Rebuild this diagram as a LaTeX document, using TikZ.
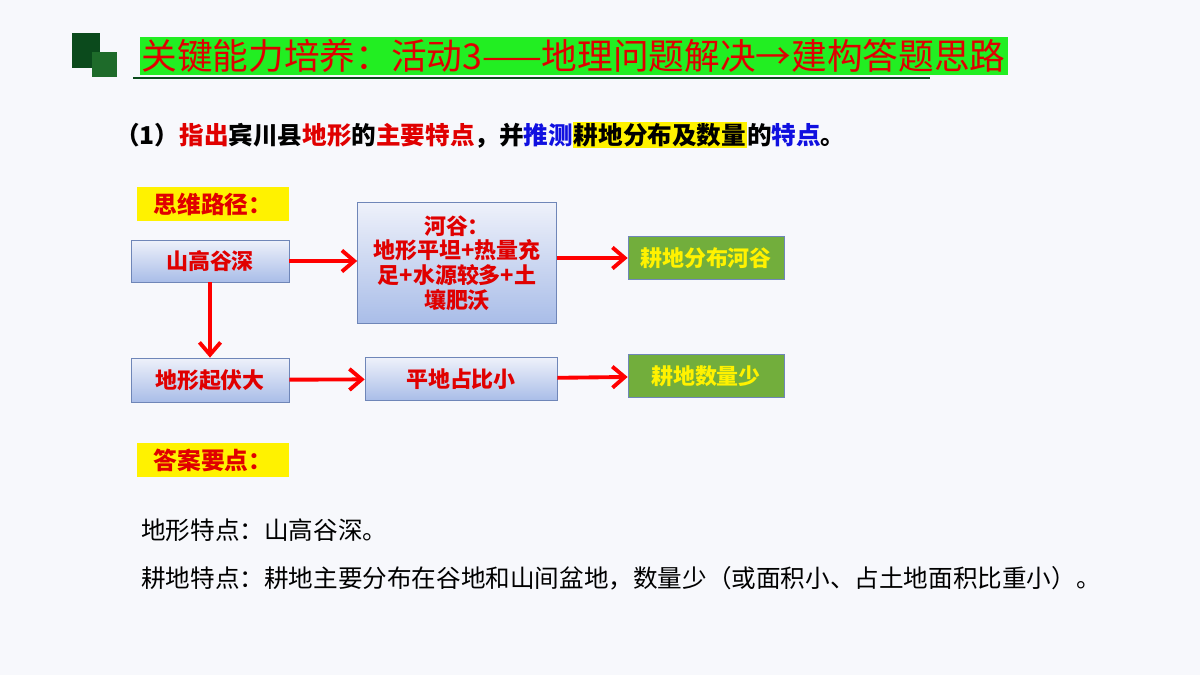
\documentclass[tikz,border=0pt]{standalone}
\usepackage{fontspec}
\newfontfamily\cjk{Noto Sans CJK SC}
\definecolor{bg}{HTML}{F7F8FC}
\definecolor{dkgreen}{HTML}{0B4A1C}
\definecolor{mdgreen}{HTML}{1E6B2A}
\definecolor{titlegreen}{HTML}{22EE22}
\definecolor{boxtop}{HTML}{EEF1FA}
\definecolor{boxbot}{HTML}{A9BDE8}
\definecolor{boxline}{HTML}{6F86B8}
\definecolor{leaf}{HTML}{72AE3C}
\definecolor{hred}{HTML}{E00000}
\definecolor{hblue}{HTML}{1010E0}
\tikzset{
  stepbox/.style={draw=boxline,top color=boxtop,bottom color=boxbot,
    text=hred,font=\cjk\bfseries\fontsize{12.5}{14}\selectfont,align=center},
  leafbox/.style={draw=boxline,fill=leaf,text=yellow,
    font=\cjk\bfseries\fontsize{12.5}{14}\selectfont},
  tagbox/.style={fill=yellow,text=hred,minimum width=3.04cm,minimum height=0.66cm,
    font=\cjk\bfseries\fontsize{13.5}{15}\selectfont},
  flow/.style={draw=red,line width=2.2pt,-{Straight Barb[length=7pt,width=12pt]}}
}
\usetikzlibrary{arrows.meta}
\setlength{\fboxsep}{0.5pt}
\begin{document}
\begin{tikzpicture}[x=0.02cm,y=-0.02cm]
 \fill[bg] (0,0) rectangle (1200,675);
 % heading
 \fill[dkgreen] (72,33) rectangle (100,68);
 \fill[mdgreen] (92,52) rectangle (117,77);
 \fill[titlegreen] (140,37) rectangle (1008,75);
 \draw[dkgreen,line width=1pt] (133,78) -- (930,78);
 \node[anchor=west,text=hred,font=\cjk\fontsize{20.3}{22}\selectfont,inner sep=0pt] (title) at (141,56)
   {关键能力培养：活动3——地理问题解决→建构答题思路};
 \node[anchor=west,font=\cjk\bfseries\fontsize{14}{15}\selectfont,inner sep=0pt] (ask) at (115,135)
   {（1）\textcolor{hred}{指出}宾川县\textcolor{hred}{地形}的\textcolor{hred}{主要特点}，并\textcolor{hblue}{推测}\colorbox{yellow}{耕地分布及数量}的\textcolor{hblue}{特点}。};
 % flow
 \node[tagbox] (path) at (213,204) {思维路径：};
 \node[stepbox,minimum width=3.16cm,minimum height=0.84cm] (steep) at (210,261) {山高谷深};
 \node[stepbox,minimum width=3.98cm,minimum height=2.42cm] (valley) at (457,263)
   {河谷：\\地形平坦+热量充\\足+水源较多+土\\壤肥沃};
 \node[leafbox,minimum width=3.12cm,minimum height=0.86cm] (dist) at (706,258) {耕地分布河谷};
 \node[stepbox,minimum width=3.16cm,minimum height=0.88cm] (relief) at (210,380) {地形起伏大};
 \node[stepbox,minimum width=3.84cm,minimum height=0.86cm] (flat) at (461,379) {平地占比小};
 \node[leafbox,minimum width=3.12cm,minimum height=0.86cm] (few) at (706,376) {耕地数量少};
 \draw[flow] (steep) -- (steep.east -| valley.west);
 \draw[flow] (valley.east |- dist) -- (dist);
 \draw[flow] (steep) -- (relief);
 \draw[flow] (relief) -- (flat);
 \draw[flow] (flat) -- (few);
 \node[tagbox] (key) at (213,460) {答案要点：};
 % answer
 \node[anchor=west,font=\cjk\fontsize{14}{16}\selectfont,inner sep=0pt] (ans1) at (141,530) {地形特点：山高谷深。};
 \node[anchor=west,font=\cjk\fontsize{14}{16}\selectfont,inner sep=0pt] (ans2) at (141,578)
   {耕地特点：耕地主要分布在谷地和山间盆地，数量少（或面积小、占土地面积比重小）。};
\end{tikzpicture}
\end{document}
